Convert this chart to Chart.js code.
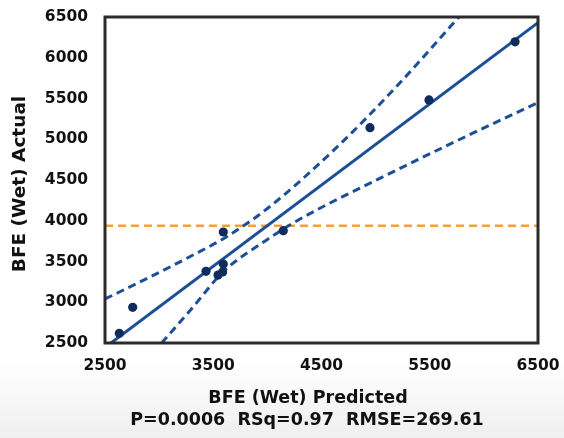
<!DOCTYPE html>
<html>
<head>
<meta charset="utf-8">
<script src="https://cdn.jsdelivr.net/npm/chart.js@4/dist/chart.umd.min.js"></script>
<style>
html,body{margin:0;padding:0;background:#fff;}
canvas{display:block;}
</style>
</head>
<body>
<canvas id="c" width="564" height="438"></canvas>
<script>
// ---- data ----
const predicted = [2632, 2756, 3433, 3593, 3587, 3544, 3593, 4147, 4948, 5493, 6288];
const actual    = [2619, 2938, 3380, 3469, 3371, 3334, 3862, 3878, 5142, 5482, 6195];

const fitX = [2555, 6500];
const fitY = [2500, 6430];

const upperX = [2500, 2900, 3300, 3624, 4000, 4640, 5195, 5770];
const upperY = [3040, 3300, 3570, 3804, 4150, 4900, 5650, 6500];

const lowerX = [3023, 3300, 3593, 4000, 4286, 5071, 5780, 6500];
const lowerY = [2500, 2920, 3375, 3770, 4009, 4541, 5000, 5450];

const refX = [2500, 6500];
const refY = [3940, 3940];

const xTicks = [2500, 3500, 4500, 5500, 6500];
const yTicks = [2500, 3000, 3500, 4000, 4500, 5000, 5500, 6000, 6500];

const xTitle = 'BFE (Wet) Predicted';
const yTitle = 'BFE (Wet) Actual';
const statsLine = 'P=0.0006  RSq=0.97  RMSE=269.61';

// ---- build ----
const pts = (xs, ys) => xs.map((x, i) => ({x: x, y: ys[i]}));
const BLUE = '#1d4f97';
const NAVY = '#0f2d5c';
const ORANGE = '#f6a035';
const FONT = '"DejaVu Sans", sans-serif';

const decor = {
  id: 'decor',
  beforeDraw(chart) {
    const ctx = chart.ctx;
    ctx.save();
    const g = ctx.createLinearGradient(0, 360, 0, 438);
    g.addColorStop(0, '#ffffff');
    g.addColorStop(1, '#efefef');
    ctx.fillStyle = '#ffffff';
    ctx.fillRect(0, 0, chart.width, chart.height);
    ctx.fillStyle = g;
    ctx.fillRect(0, 360, chart.width, 78);
    ctx.restore();
  },
  afterDraw(chart) {
    const ctx = chart.ctx;
    const a = chart.chartArea;
    ctx.save();
    ctx.strokeStyle = '#2b2b2b';
    ctx.lineWidth = 3;
    ctx.strokeRect(a.left, a.top, a.right - a.left, a.bottom - a.top);
    ctx.fillStyle = '#111111';
    ctx.textAlign = 'center';
    ctx.textBaseline = 'middle';
    ctx.font = 'bold 17.5px ' + FONT;
    ctx.fillText(xTitle, 308, 398);
    ctx.fillText(statsLine, 307, 420);
    ctx.translate(20, 184);
    ctx.rotate(-Math.PI / 2);
    ctx.font = 'bold 18.5px ' + FONT;
    ctx.fillText(yTitle, 0, 0);
    ctx.restore();
  }
};

const plain = v => String(v);

new Chart(document.getElementById('c'), {
  type: 'scatter',
  data: {
    datasets: [
      {
        label: 'Data', data: pts(predicted, actual), order: 0,
        pointRadius: 4.6, pointBackgroundColor: NAVY, pointBorderColor: NAVY, pointBorderWidth: 0,
        showLine: false
      },
      {
        label: 'Fit', data: pts(fitX, fitY), order: 1, showLine: true,
        borderColor: BLUE, borderWidth: 3, pointRadius: 0
      },
      {
        label: 'Upper', data: pts(upperX, upperY), order: 2, showLine: true,
        borderColor: BLUE, borderWidth: 3, borderDash: [8, 5], pointRadius: 0,
        cubicInterpolationMode: 'monotone'
      },
      {
        label: 'Lower', data: pts(lowerX, lowerY), order: 2, showLine: true,
        borderColor: BLUE, borderWidth: 3, borderDash: [8, 5], pointRadius: 0,
        cubicInterpolationMode: 'monotone'
      },
      {
        label: 'Ref', data: pts(refX, refY), order: 3, showLine: true,
        borderColor: ORANGE, borderWidth: 2.5, borderDash: [8, 5], pointRadius: 0
      }
    ]
  },
  options: {
    responsive: false,
    animation: false,
    events: [],
    layout: { padding: { top: 17, right: 26, left: 0, bottom: 0 } },
    plugins: { legend: { display: false }, tooltip: { enabled: false } },
    scales: {
      x: {
        type: 'linear', min: 2500, max: 6500,
        afterBuildTicks: s => { s.ticks = xTicks.map(v => ({value: v})); },
        afterFit: s => { s.height = 95; s.paddingLeft = 0; s.paddingRight = 0; },
        grid: { display: false, drawTicks: false },
        border: { display: false },
        ticks: { padding: 14, color: '#111', callback: plain, font: { family: FONT, size: 15.5, weight: 'bold' }, maxRotation: 0 }
      },
      y: {
        type: 'linear', min: 2500, max: 6500,
        afterBuildTicks: s => { s.ticks = yTicks.map(v => ({value: v})); },
        afterFit: s => { s.width = 105; s.paddingTop = 0; s.paddingBottom = 0; },
        grid: { display: false, drawTicks: false },
        border: { display: false },
        ticks: { padding: 17, color: '#111', callback: plain, font: { family: FONT, size: 15.5, weight: 'bold' } }
      }
    }
  },
  plugins: [decor]
});
</script>
</body>
</html>
